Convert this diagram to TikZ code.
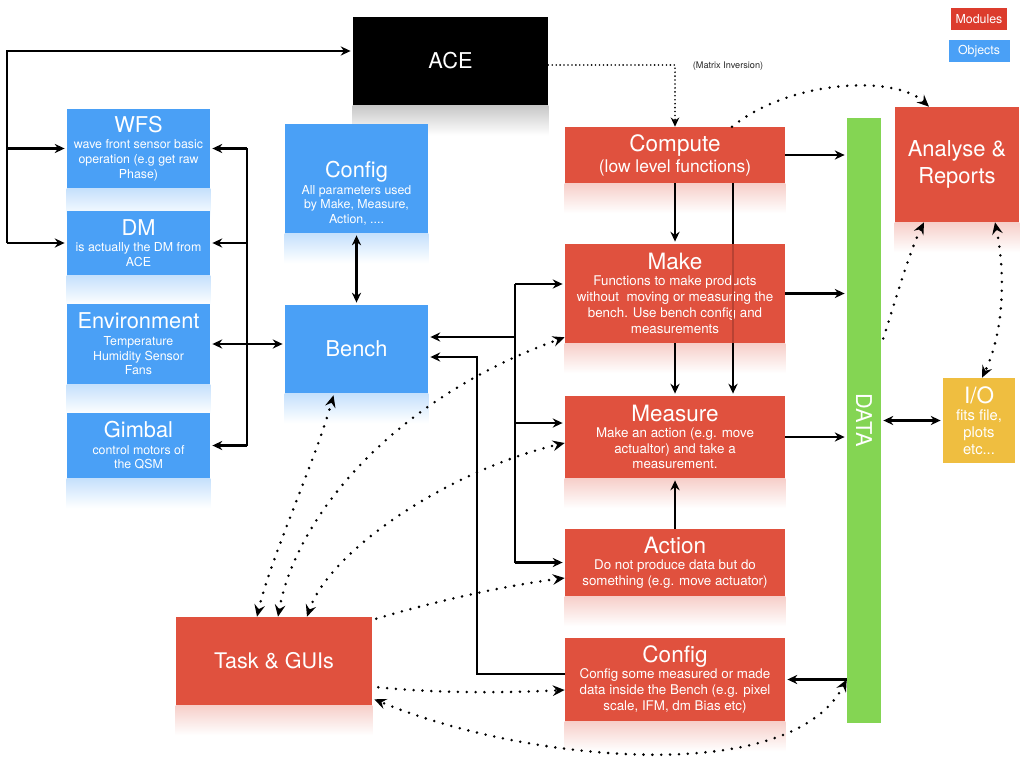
\documentclass[tikz,border=0pt]{standalone}
\usepackage{fontspec}
\setmainfont{TeX Gyre Heros}
\usetikzlibrary{
    arrows.meta,
    calc,
    backgrounds
}

\definecolor{modred}{HTML}{E0513E}
\definecolor{legred}{HTML}{DC3C2D}
\definecolor{objblue}{HTML}{4AA0F6}
\definecolor{datagreen}{HTML}{84D553}
\definecolor{ioyellow}{HTML}{EFBE40}

% --- Font sizes (picture laid out in pixels, 1px = 0.025cm) ---
\newcommand{\ttlfont}{\fontsize{16}{19}\selectfont}
\newcommand{\ottlfont}{\fontsize{15.5}{18}\selectfont}
\newcommand{\otxtfont}{\fontsize{8.8}{10.6}\selectfont}
\newcommand{\mtxtfont}{\fontsize{9.5}{11.3}\selectfont}

% --- Faded mirror strip below a box ---
\newcommand{\drawreflection}[2]{%
    \shade[top color=#2, bottom color=white]
        (#1.south west) rectangle ($(#1.south east)+(0,30)$);
}

\tikzset{
    % --- Module box (red) ---
    module/.style = {
        rectangle, fill=modred, text=white, inner sep=0pt,
        minimum width=5.5cm, font=\mtxtfont, align=center
    },
    % --- Object box (blue) ---
    object/.style = {
        rectangle, fill=objblue, text=white, inner sep=0pt,
        minimum width=3.575cm, font=\otxtfont, align=center
    },
    % --- Legend chip ---
    legend/.style = {
        rectangle, text=white, inner sep=0pt,
        minimum height=0.55cm, font=\fontsize{8.8}{10}\selectfont
    },
    % --- Plain wire (bus) ---
    wire/.style = {line width=1.5pt},
    % --- Data flow arrow ---
    data arrow/.style = {
        wire, -{Stealth[length=7pt, width=6.5pt]}, shorten >=1.5pt
    },
    % --- Two-way data arrow ---
    both arrow/.style = {
        wire, {Stealth[length=7pt, width=6.5pt]}-{Stealth[length=7pt, width=6.5pt]},
        shorten >=1.5pt, shorten <=1.5pt
    },
    % --- Dotted usage link ---
    dot line/.style = {
        line width=2pt, line cap=round, dash pattern=on 0pt off 6.3pt
    },
    dot arrow/.style = {
        dot line, -{Stealth[length=8.5pt, width=7.5pt, inset=3pt]}
    },
    dot both/.style = {
        dot line,
        {Stealth[length=8.5pt, width=7.5pt, inset=3pt]}-{Stealth[length=8.5pt, width=7.5pt, inset=3pt]}
    },
    % --- Fine dotted arrow (ACE link) ---
    fine dots/.style = {
        line width=1.3pt, line cap=round, dash pattern=on 0pt off 2.8pt,
        -{Stealth[length=6.5pt, width=6pt]}
    }
}

\begin{document}
\begin{tikzpicture}[x=0.025cm, y=-0.025cm]

\useasboundingbox (0,0) rectangle (1024,768);

% ---------------------------------------------------------
% Legend
% ---------------------------------------------------------
\node[legend, fill=legred, minimum width=1.4cm] (LegMod) at (979,19) {Modules};
\node[legend, fill=objblue, minimum width=1.525cm] (LegObj) at (979,51) {Objects};

% ---------------------------------------------------------
% ACE
% ---------------------------------------------------------
\node[rectangle, fill=black, text=white, minimum width=4.875cm, minimum height=2.2cm,
      font=\fontsize{15.5}{18}\selectfont] (ACE) at (450.5,61) {ACE};
\node[font=\fontsize{6.5}{8}\selectfont, text=black!85] (MatInv) at (728,66) {(Matrix Inversion)};

% ---------------------------------------------------------
% Objects (blue)
% ---------------------------------------------------------
\node[object, minimum height=1.975cm] (WFS) at (138.5,148.5)
    {{\ottlfont WFS}\\[1pt]wave front sensor basic\\operation (e.g get raw\\Phase)};
\node[object, minimum height=1.6cm] (DM) at (138.5,243)
    {{\ottlfont DM}\\[1pt]is actually the DM from\\ACE};
\node[object, minimum height=2cm] (Env) at (138.5,344)
    {{\ottlfont Environment}\\[1pt]Temperature\\Humidity Sensor\\Fans};
\node[object, minimum height=1.625cm] (Gimbal) at (138.5,445.5)
    {{\ottlfont Gimbal}\\[1pt]control motors of\\the QSM};
\node[object, minimum height=2.725cm] (CfgObj) at (356.5,178.5)
    {{\ottlfont\rule{0pt}{33pt}Config}\\[1pt]All parameters used\\by Make, Measure,\\Action, ....};
\node[object, minimum height=2.2cm, font=\ottlfont] (Bench) at (356.5,349) {Bench};

% ---------------------------------------------------------
% Modules (red)
% ---------------------------------------------------------
\node[module, minimum height=1.4cm, font=\fontsize{12.4}{15}\selectfont] (Compute) at (675,155)
    {{\ttlfont Compute}\\(low level functions)};
\node[module, minimum height=2.475cm] (Make) at (675,293.5)
    {{\ttlfont Make}\\Functions to make products\\without\ \ moving or measuring the\\bench. Use bench config and\\measurements};
\node[module, minimum height=2.05cm] (Measure) at (675,437)
    {{\ttlfont Measure}\\Make an action (e.g. move\\actualtor) and take a\\measurement.};
\node[module, minimum height=1.675cm] (Action) at (675,562.5)
    {{\ttlfont Action}\\Do not produce data but do\\something (e.g. move actuator)};
\node[module, minimum height=2.075cm] (CfgMod) at (675,679.5)
    {{\ttlfont Config}\\Config some measured or made\\data inside the Bench (e.g. pixel\\scale, IFM, dm Bias etc)};
\node[module, minimum width=3.1cm, minimum height=2.875cm,
      font=\fontsize{15.6}{19}\selectfont] (Analyse) at (957,164.5) {Analyse \&\\Reports};
\node[module, minimum width=4.9cm, minimum height=2.2cm,
      font=\fontsize{15.3}{18}\selectfont] (Task) at (274,661) {Task \& GUIs};

% ---------------------------------------------------------
% DATA bar and I/O
% ---------------------------------------------------------
\node[rectangle, fill=datagreen, inner sep=0pt, minimum width=0.85cm,
      minimum height=15.125cm] (DATA) at (864,420.5) {};
\node[rotate=-90, text=white, font=\fontsize{15.5}{18}\selectfont] (DataLbl) at (DATA.center) {DATA};
\node[rectangle, fill=ioyellow, text=white, inner sep=0pt, minimum width=1.8cm,
      minimum height=2.125cm, align=center, font=\fontsize{10.5}{12}\selectfont] (IO) at (979,420.5)
    {{\ttlfont I/O}\\fits file,\\plots\\etc...};

% ---------------------------------------------------------
% ACE to WFS / DM (left bus)
% ---------------------------------------------------------
\coordinate (lbus) at (7,51);
\draw[data arrow] (lbus |- DM.west) -- (lbus) -- (lbus -| ACE.west);
\draw[data arrow] (lbus |- WFS.west) -- (WFS.west);
\draw[data arrow] (lbus |- DM.west) -- (DM.west);

% Object bus
\coordinate (obus) at (247,146);
\draw[wire] (obus |- WFS.east) -- (obus |- Gimbal.east);
\foreach \obj in {WFS, DM, Gimbal}
    \draw[data arrow] (obus |- \obj.east) -- (\obj.east);
\draw[both arrow] (Env.east) -- (Env.east -| Bench.west);
\draw[both arrow] (CfgObj.south) -- (Bench.north);

% ---------------------------------------------------------
% Compute chain
% ---------------------------------------------------------
\draw[fine dots] ($(ACE.east)+(0,4)$) -| (Compute.north);
\draw[data arrow] (Compute.south) -- (Make.north);
\draw[data arrow] (Make.south) -- (Measure.north);
\draw[data arrow] (Action.north) -- (Measure.south);

% Compute straight down to Measure, seen through Make
\coordinate (skip) at (733,300);
\draw[data arrow] (Compute.south -| skip) -- (Measure.north -| skip);
\draw[wire, modred!82!black] (Make.north -| skip) -- (Make.south -| skip);

% To and from DATA
\foreach \m in {Compute, Make, Measure}
    \draw[data arrow] (\m.east) -- (\m.east -| DATA.west);
\draw[data arrow] (DATA.west |- CfgMod.east) -- (CfgMod.east);
\draw[both arrow] (IO.west -| DATA.east) -- (IO.west);

% ---------------------------------------------------------
% Bench links
% ---------------------------------------------------------
\coordinate (mbus) at (515,300);
\coordinate (cbus) at (477,500);
\coordinate (benchA) at ($(Bench.east)+(0,-12)$);
\coordinate (benchB) at ($(Bench.east)+(0,8)$);
\coordinate (makeIn) at ($(Make.west)+(0,-9.5)$);
\coordinate (measIn) at ($(Measure.west)+(0,-14)$);
\draw[wire] (mbus |- makeIn) -- (mbus |- Action.west);
\draw[data arrow] (mbus |- benchA) -- (benchA);
\draw[data arrow] (mbus |- makeIn) -- (makeIn);
\draw[data arrow] (mbus |- measIn) -- (measIn);
\draw[data arrow] (mbus |- Action.west) -- (Action.west);
\draw[data arrow] ($(CfgMod.west)+(0,-5.5)$) -| (cbus |- benchB) -- (benchB);

% ---------------------------------------------------------
% Dotted links (Task & GUIs, Analyse)
% ---------------------------------------------------------
\draw[dot both] ($(Task.north)+(-17,0)$) .. controls +(13,-57) and +(-18,65) .. ($(Bench.south)+(-23,2)$);
\draw[dot both] ($(Task.north)+(4,0)$) .. controls +(17,-97) and +(-175,63) .. ($(Make.south west)+(0,-6)$);
\draw[dot both] ($(Task.north)+(33,0)$) .. controls +(23,-67) and +(-115,27) .. ($(Measure.west)+(0,6)$);
\draw[dot arrow] ($(Task.north east)+(4,2)$) .. controls +(64,-19) and +(-55,7) .. ($(Action.west)+(0,15.5)$);
\draw[dot arrow] ($(Task.south east)+(6,-18)$) .. controls +(60,6) and +(-60,3) .. ($(CfgMod.west)+(0,10.5)$);
\draw[dot both] (DATA.west |- CfgMod.east) .. controls +(-57,110) and +(146,61) .. ($(Task.south east)+(2,-6)$);

\draw[dot arrow] ($(Compute.north)+(57,0)$) .. controls +(58,-47) and +(-34,-32) .. ($(Analyse.north)+(-28,0)$);
\draw[dot arrow] ($(DATA.east)+(2,-82)$) .. controls +(12,-38) and +(-14,28) .. ($(Analyse.south)+(-33,0)$);
\draw[dot both] ($(Analyse.south)+(38,0)$) .. controls +(10,48) and +(23,-48) .. ($(IO.north)+(3,0)$);

% ---------------------------------------------------------
% Background: reflections
% ---------------------------------------------------------
\begin{scope}[on background layer]
\fill[white] (0,0) rectangle (1024,768);
\drawreflection{ACE}{black!22}
\foreach \obj in {WFS, DM, Env, Gimbal, CfgObj, Bench}
    {\drawreflection{\obj}{objblue!32}}
\foreach \mod in {Compute, Make, Measure, Action, CfgMod, Analyse, Task}
    {\drawreflection{\mod}{modred!28}}
\end{scope}

\end{tikzpicture}
\end{document}
